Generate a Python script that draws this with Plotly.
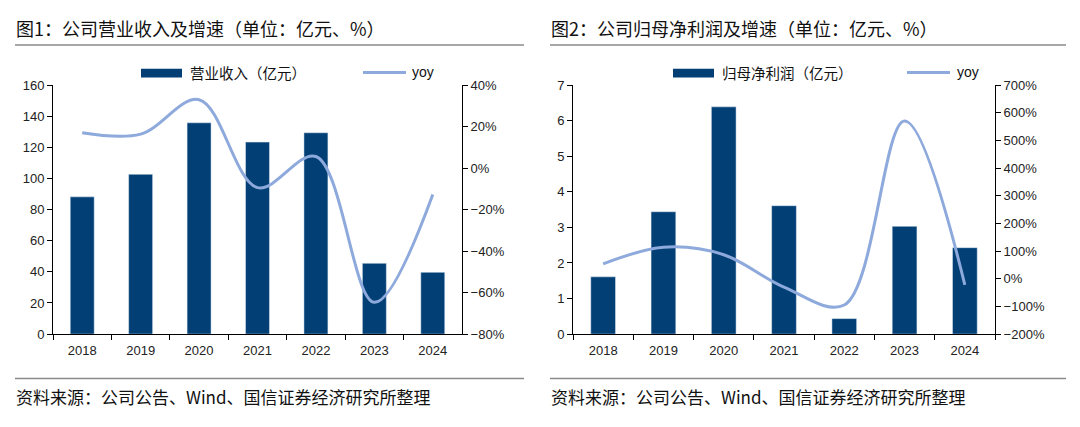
import plotly.graph_objects as go

years = ["2018", "2019", "2020", "2021", "2022", "2023", "2024"]
revenue = [88.2, 102.7, 135.8, 123.4, 129.4, 45.5, 39.7]
revenue_yoy = [17.1, 16.4, 33.0, -9.4, 5.6, -64.7, -12.7]
profit = [1.61, 3.44, 6.39, 3.61, 0.435, 3.03, 2.43]
profit_yoy = [54, 114, 87, -30, -95, 570, -22]

title1 = "图1：公司营业收入及增速（单位：亿元、%）"
title2 = "图2：公司归母净利润及增速（单位：亿元、%）"
source = "资料来源：公司公告、Wind、国信证券经济研究所整理"
bar_name1 = "营业收入（亿元）"
bar_name2 = "归母净利润（亿元）"
line_name = "yoy"

W, H = 1080, 427
BAR = "#013F75"
LINE = "#8EA9DB"
CJK = "Noto Sans CJK SC"
NUM = "Liberation Sans"


def px(x):
    return x / W


def py(y):
    return 1 - y / H


fig = go.Figure()
fig.add_trace(go.Bar(x=years, y=revenue, marker_color=BAR, xaxis="x", yaxis="y",
                     name=bar_name1, showlegend=False))
fig.add_trace(go.Scatter(x=years, y=revenue_yoy, mode="lines", xaxis="x", yaxis="y2",
                         line=dict(color=LINE, width=3, shape="spline", smoothing=1),
                         name=line_name, showlegend=False))
fig.add_trace(go.Bar(x=years, y=profit, marker_color=BAR, xaxis="x2", yaxis="y3",
                     name=bar_name2, showlegend=False))
fig.add_trace(go.Scatter(x=years, y=profit_yoy, mode="lines", xaxis="x2", yaxis="y4",
                         line=dict(color=LINE, width=3, shape="spline", smoothing=1),
                         name=line_name, showlegend=False))

ydom = [py(339), py(81)]
axis_common = dict(showline=True, linecolor="#000", linewidth=1, ticks="outside",
                   ticklen=5, tickcolor="#000", showgrid=False, zeroline=False,
                   tickfont=dict(family=NUM, size=13, color="#222"))

fig.update_layout(
    width=W, height=H, margin=dict(l=0, r=0, t=0, b=0),
    paper_bgcolor="white", plot_bgcolor="white", bargap=0.59,
    xaxis=dict(domain=[px(53), px(462)], type="category", range=[-0.5, 6.5],
               tickson="boundaries", ticklabelstandoff=4, anchor="y", **axis_common),
    yaxis=dict(domain=ydom, range=[0, 160], dtick=20, anchor="x", **axis_common),
    yaxis2=dict(domain=ydom, range=[-80, 40], dtick=20, ticksuffix="%", overlaying="y",
                side="right", anchor="x", **axis_common),
    xaxis2=dict(domain=[px(573), px(995)], type="category", range=[-0.5, 6.5],
                tickson="boundaries", ticklabelstandoff=4, anchor="y3", **axis_common),
    yaxis3=dict(domain=ydom, range=[0, 7], dtick=1, anchor="x2", **axis_common),
    yaxis4=dict(domain=ydom, range=[-200, 700], dtick=100, ticksuffix="%", overlaying="y3",
                side="right", anchor="x2", **axis_common),
)

shapes = []
annotations = []
for x0, x1, title in [(15, 524, title1), (550, 1066, title2)]:
    shapes.append(dict(type="line", xref="paper", yref="paper", x0=px(x0), x1=px(x1),
                       y0=py(39.5), y1=py(39.5), line=dict(color="#8a8a8a", width=1.5)))
    shapes.append(dict(type="line", xref="paper", yref="paper", x0=px(x0), x1=px(x1),
                       y0=py(385), y1=py(385), line=dict(color="#8a8a8a", width=1.5)))
    annotations.append(dict(text=title, xref="paper", yref="paper", x=px(x0 - 1), y=py(22),
                            xanchor="left", yanchor="middle", showarrow=False,
                            font=dict(family=CJK, size=18, color="#111")))
    annotations.append(dict(text=source, xref="paper", yref="paper", x=px(x0 - 1), y=py(404),
                            xanchor="left", yanchor="middle", showarrow=False,
                            font=dict(family=CJK, size=17, color="#111")))

# legends
for bx, tx, lx, ltx, name in [(141, 188, 363, 410, bar_name1), (673, 720, 907, 955, bar_name2)]:
    shapes.append(dict(type="rect", xref="paper", yref="paper", x0=px(bx), x1=px(bx + 41),
                       y0=py(73), y1=py(64), fillcolor=BAR, line=dict(width=0)))
    shapes.append(dict(type="line", xref="paper", yref="paper", x0=px(lx), x1=px(lx + 43),
                       y0=py(68), y1=py(68), line=dict(color=LINE, width=3)))
    annotations.append(dict(text=name, xref="paper", yref="paper", x=px(tx), y=py(68),
                            xanchor="left", yanchor="middle", showarrow=False,
                            font=dict(family=CJK, size=14.5, color="#111")))
    annotations.append(dict(text=line_name, xref="paper", yref="paper", x=px(ltx), y=py(67),
                            xanchor="left", yanchor="middle", showarrow=False,
                            font=dict(family=NUM, size=14, color="#111")))

fig.update_layout(shapes=shapes, annotations=annotations)
fig.write_html("out.html", config={"displayModeBar": False},
               post_script="document.body.style.margin='0';document.body.style.overflow='hidden';")
